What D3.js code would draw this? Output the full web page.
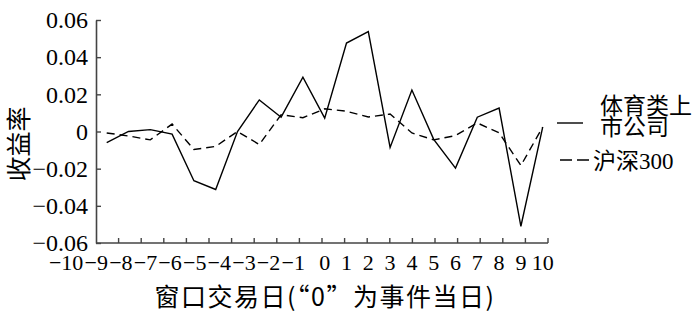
<!DOCTYPE html>
<html>
<head>
<meta charset="utf-8">
<script src="https://cdn.jsdelivr.net/npm/d3@7"></script>
<style>
  body { margin: 0; background: #fff; }
  text { font-family: "Liberation Serif", "Noto Sans CJK SC", serif; fill: #000; }
  .cjk { font-family: "Noto Sans CJK SC", sans-serif; }
</style>
</head>
<body>
<script>
// window days around the event
var days = [-10, -9, -8, -7, -6, -5, -4, -3, -2, -1, 0, 1, 2, 3, 4, 5, 6, 7, 8, 9, 10];
// sports listed companies
var sports = [-0.0060, 0.0000, 0.0010, -0.0014, -0.0265, -0.0312, 0.0000, 0.0170, 0.0077, 0.0292, 0.0072,
              0.0476, 0.0538, -0.0086, 0.0223, -0.0042, -0.0197, 0.0077, 0.0126, -0.0510, 0.0024];
// CSI 300
var hs300 = [-0.0008, -0.0024, -0.0045, 0.0040, -0.0097, -0.0080, 0.0000, -0.0070, 0.0090, 0.0074, 0.0122,
             0.0109, 0.0078, 0.0094, -0.0008, -0.0045, -0.0022, 0.0046, -0.0007, -0.0183, 0.0024];
var yTicks = [-0.06, -0.04, -0.02, 0, 0.02, 0.04, 0.06];

var w = 700, h = 314;
var mL = 96, mR = 548, mT = 20, mB = 243;

var svg = d3.select('body').append('svg')
  .attr('width', w)
  .attr('height', h);

var x = d3.scalePoint()
  .domain(days)
  .range([106.7, 542.7]);

// tick marks on the x axis sit between the categories
var xTick = d3.scaleLinear()
  .domain([0, 20])
  .range([mL, mR]);

var y = d3.scaleLinear()
  .domain([-0.06, 0.06])
  .range([mB, mT]);

// y axis
var yAxis = svg.append('g')
  .attr('transform', 'translate(' + mL + ',0)')
  .call(d3.axisLeft(y)
    .tickValues(yTicks)
    .tickSizeInner(-5)
    .tickSizeOuter(0)
    .tickPadding(8)
    .tickFormat(function(d) { return d === 0 ? '0' : d3.format('.2f')(d); }));
yAxis.select('.domain').attr('stroke', '#444').attr('stroke-width', 1.6);
yAxis.selectAll('.tick line').attr('stroke', '#444').attr('stroke-width', 1.4);
yAxis.selectAll('.tick text')
  .style('font-family', '"Liberation Serif", serif')
  .style('font-size', '24px')
  .attr('fill', '#000');

// x axis
svg.append('line')
  .attr('x1', mL).attr('x2', mR)
  .attr('y1', mB).attr('y2', mB)
  .attr('stroke', '#444')
  .attr('stroke-width', 1.6);

svg.selectAll('.xtick')
  .data(d3.range(1, 21))
  .enter().append('line')
    .attr('class', 'xtick')
    .attr('x1', function(d) { return xTick(d); })
    .attr('x2', function(d) { return xTick(d); })
    .attr('y1', mB)
    .attr('y2', mB - 5)
    .attr('stroke', '#444')
    .attr('stroke-width', 1.4);

var xlab = svg.selectAll('.xlab')
  .data(days)
  .enter().append('text')
    .attr('class', 'xlab')
    .attr('x', function(d) { return x(d); })
    .attr('y', 270)
    .style('font-size', '22px')
    .style('text-anchor', 'middle')
    .text(function(d) { return d < 0 ? '\u2212' + Math.abs(d) : d; });

// negative labels are wider than a category, so they butt up against each other
var edge = x(-1) + 2;
xlab.filter(function(d) { return d < 0; }).nodes().reverse().forEach(function(node) {
  var len = node.getComputedTextLength();
  d3.select(node).attr('x', edge - len / 2);
  edge -= len + 1.2;
});

// axis titles
svg.append('text')
  .attr('class', 'cjk')
  .attr('transform', 'translate(28,144) rotate(-90)')
  .style('font-size', '25px')
  .style('text-anchor', 'middle')
  .text('收益率');

svg.append('text')
  .attr('class', 'cjk')
  .attr('x', 325)
  .attr('y', 306)
  .style('font-size', '25px')
  .style('letter-spacing', '1.5px')
  .style('text-anchor', 'middle')
  .text('窗口交易日(“0”为事件当日)');

// lines
var line = d3.line()
  .x(function(d, i) { return x(days[i]); })
  .y(function(d) { return y(d); });

svg.append('path')
  .datum(hs300)
  .attr('d', line)
  .attr('fill', 'none')
  .attr('stroke', '#000')
  .attr('stroke-width', 1.4)
  .attr('stroke-dasharray', '8,5');

svg.append('path')
  .datum(sports)
  .attr('d', line)
  .attr('fill', 'none')
  .attr('stroke', '#000')
  .attr('stroke-width', 1.4);

// legend
svg.append('line')
  .attr('x1', 557).attr('x2', 583)
  .attr('y1', 123).attr('y2', 123)
  .attr('stroke', '#000')
  .attr('stroke-width', 1.4);

var lg1 = svg.append('text')
  .attr('x', 600)
  .attr('y', 114)
  .style('font-size', '23px');
lg1.append('tspan').attr('x', 600).text('体育类上');
lg1.append('tspan').attr('x', 600).attr('dy', 21).text('市公司');

svg.append('line')
  .attr('x1', 560).attr('x2', 590)
  .attr('y1', 160).attr('y2', 160)
  .attr('stroke', '#000')
  .attr('stroke-width', 1.4)
  .attr('stroke-dasharray', '12,5');

svg.append('text')
  .attr('x', 593)
  .attr('y', 169)
  .style('font-size', '23px')
  .text('沪深300');
</script>
</body>
</html>
